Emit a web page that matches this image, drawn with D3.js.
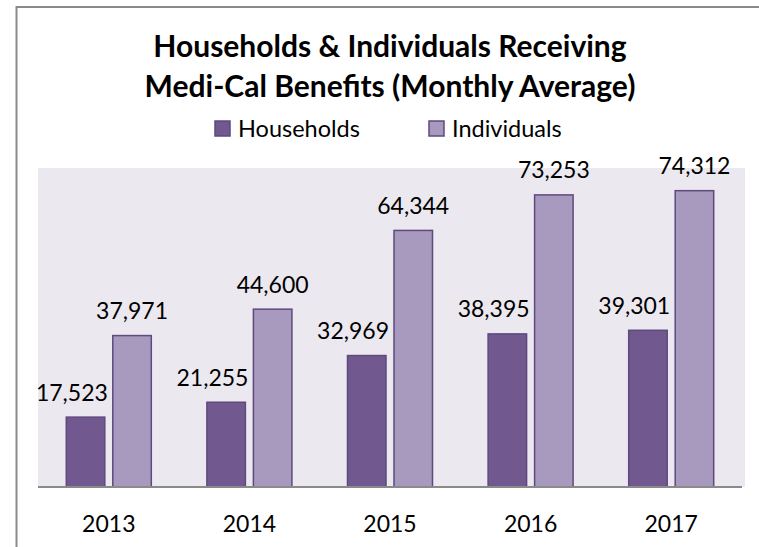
<!DOCTYPE html>
<html>
<head>
<meta charset="utf-8">
<script src="https://cdn.jsdelivr.net/npm/d3@7"></script>
<style>
  html, body { margin: 0; padding: 0; background: #fff; overflow: hidden; }
  svg { display: block; font-family: Lato, "Open Sans", sans-serif; }
</style>
</head>
<body>
<div id="chart"></div>
<script>
const years = ["2013", "2014", "2015", "2016", "2017"];
const households = [17523, 21255, 32969, 38395, 39301];
const individuals = [37971, 44600, 64344, 73253, 74312];
const seriesNames = ["Households", "Individuals"];
const titleLines = ["Households & Individuals Receiving", "Medi-Cal Benefits (Monthly Average)"];

const width = 759, height = 547;
const plot = { left: 38, right: 745, top: 168, bottom: 487 };
const colors = { Households: "#71588f", Individuals: "#a899be" };
const barStroke = "#5e4a7e";

const rows = years.map((yr, i) => ({
  year: yr,
  values: [
    { key: "Households", value: households[i] },
    { key: "Individuals", value: individuals[i] }
  ]
}));

const svg = d3.select("#chart").append("svg")
  .attr("width", width)
  .attr("height", height);

// outer frame: only top and left edges fall inside the picture
svg.append("path")
  .attr("d", `M16.5,${height}V7H${width}`)
  .attr("fill", "none")
  .attr("stroke", "#8a8a8a")
  .attr("stroke-width", 2);

// plot area background
svg.append("rect")
  .attr("x", plot.left).attr("y", plot.top)
  .attr("width", plot.right - plot.left)
  .attr("height", plot.bottom - plot.top)
  .attr("fill", "#ebe8ef");

const x0 = d3.scaleBand().domain(years).range([38.5, 741.5]);
const groupW = 85;
const x1 = d3.scaleBand().domain(seriesNames).range([0, groupW]).paddingInner(0.172);
const y = d3.scaleLinear().domain([0, 80000]).range([plot.bottom, plot.top]);

const groups = svg.append("g")
  .selectAll("g")
  .data(rows)
  .join("g")
  .attr("transform", d => `translate(${x0(d.year) + (x0.bandwidth() - groupW) / 2},0)`);

groups.selectAll("rect")
  .data(d => d.values)
  .join("rect")
  .attr("x", d => x1(d.key))
  .attr("y", d => y(d.value))
  .attr("width", x1.bandwidth())
  .attr("height", d => y(0) - y(d.value))
  .attr("fill", d => colors[d.key])
  .attr("stroke", barStroke)
  .attr("stroke-width", 1.5);

const fmt = d3.format(",");
groups.selectAll("text")
  .data(d => d.values)
  .join("text")
  .attr("x", d => d.key === "Households" ? x1(d.key) + x1.bandwidth() + 3 : x1(d.key) + x1.bandwidth() / 2)
  .attr("y", d => y(d.value) - 16.5)
  .attr("text-anchor", d => d.key === "Households" ? "end" : "middle")
  .attr("font-size", 23)
  .attr("fill", "#000")
  .text(d => fmt(d.value));

// baseline + category labels
const xAxis = svg.append("g")
  .attr("transform", `translate(0,${plot.bottom})`)
  .call(d3.axisBottom(x0).tickSize(0).tickPadding(0));
xAxis.select(".domain").attr("stroke", "#8a8a8a").attr("stroke-width", 2)
  .attr("d", `M${plot.left},0H${plot.right - 3}`);
xAxis.selectAll("text")
  .attr("font-family", "Lato, sans-serif")
  .attr("font-size", 23)
  .attr("fill", "#000")
  .attr("dy", null)
  .attr("y", 45);

// title
svg.append("g")
  .selectAll("text")
  .data(titleLines)
  .join("text")
  .attr("x", 390)
  .attr("y", (d, i) => 57 + i * 40)
  .attr("text-anchor", "middle")
  .attr("font-size", 30)
  .attr("font-weight", "bold")
  .attr("fill", "#000")
  .text(d => d);

// legend
const legendX = [215, 429];
const legend = svg.append("g")
  .selectAll("g")
  .data(seriesNames)
  .join("g")
  .attr("transform", (d, i) => `translate(${legendX[i]},121)`);
legend.append("rect")
  .attr("width", 15).attr("height", 15)
  .attr("fill", d => colors[d])
  .attr("stroke", barStroke)
  .attr("stroke-width", 1.5);
legend.append("text")
  .attr("x", 23).attr("y", 15.5)
  .attr("font-size", 23.5)
  .attr("fill", "#000")
  .text(d => d);
</script>
</body>
</html>
